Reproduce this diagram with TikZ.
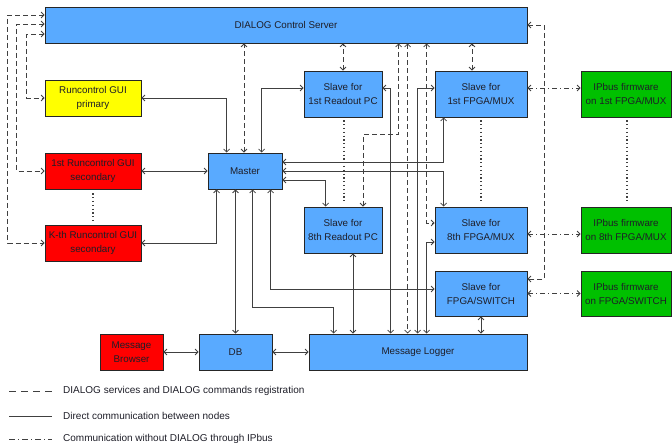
\documentclass[tikz,border=0pt]{standalone}
\usepackage{fontspec}
\setmainfont{Liberation Sans}
\usetikzlibrary{arrows.meta}
\definecolor{bfill}{RGB}{89,170,255}
\definecolor{gfill}{RGB}{0,192,0}
\definecolor{rfill}{RGB}{255,0,0}
\definecolor{yfill}{RGB}{255,255,0}
\definecolor{lc}{RGB}{64,64,64}
\definecolor{tc}{RGB}{30,30,40}
\begin{document}
\begin{tikzpicture}[x=1pt,y=-1pt,
  box/.style={draw=black!85, line width=0.8pt, inner sep=0pt, align=center,
    font=\fontsize{9.8}{14}\selectfont, text=tc},
  bluebox/.style={box, fill=bfill},
  conn/.style={draw=lc, line width=0.8pt, {Straight Barb[length=3pt,width=6pt]}-{Straight Barb[length=3pt,width=6pt]}},
  sol/.style={conn},
  dsh/.style={conn, dash pattern=on 5pt off 3pt},
  dshdot/.style={conn, dash pattern=on 5pt off 3pt on 1pt off 3pt},
  dotl/.style={draw=lc, line width=1.1pt, dash pattern=on 1.2pt off 2.6pt},
  legtext/.style={anchor=west, inner sep=0pt, font=\fontsize{10}{12}\selectfont, text=tc}
]
\useasboundingbox (0,0) rectangle (672,443);

% nodes
\node[bluebox, minimum width=482pt, minimum height=36pt] (srv) at (286,25) {DIALOG Control Server};
\node[box, fill=yfill, minimum width=96pt, minimum height=36pt] (gui1) at (93,98) {Runcontrol GUI\\primary};
\node[box, fill=rfill, minimum width=96pt, minimum height=36pt] (gui2) at (93,171) {1st Runcontrol GUI\\secondary};
\node[box, fill=rfill, minimum width=96pt, minimum height=36pt] (gui3) at (93,243) {K-th Runcontrol GUI\\secondary};
\node[bluebox, minimum width=74pt, minimum height=36pt] (master) at (245,171) {Master};
\node[bluebox, minimum width=78pt, minimum height=46pt] (ro1) at (343,94) {Slave for\\1st Readout PC};
\node[bluebox, minimum width=78pt, minimum height=46pt] (ro8) at (343,230) {Slave for\\8th Readout PC};
\node[bluebox, minimum width=92pt, minimum height=46pt] (fm1) at (481,94) {Slave for\\1st FPGA/MUX};
\node[bluebox, minimum width=92pt, minimum height=46pt] (fm8) at (481,230) {Slave for\\8th FPGA/MUX};
\node[bluebox, minimum width=92pt, minimum height=45pt] (fsw) at (481,293.5) {Slave for\\FPGA/SWITCH};
\node[box, fill=gfill, minimum width=90pt, minimum height=46pt] (ip1) at (626,94) {IPbus firmware\\on 1st FPGA/MUX};
\node[box, fill=gfill, minimum width=90pt, minimum height=46pt] (ip8) at (626,230) {IPbus firmware\\on 8th FPGA/MUX};
\node[box, fill=gfill, minimum width=90pt, minimum height=45pt] (ipsw) at (626,293.5) {IPbus firmware\\on FPGA/SWITCH};
\node[bluebox, minimum width=218pt, minimum height=36pt] (ml) at (418,352) {Message Logger};
\node[bluebox, minimum width=73pt, minimum height=36pt] (db) at (235.5,352) {DB};
\node[box, fill=rfill, minimum width=63pt, minimum height=36pt] (mb) at (131.5,352) {Message\\Browser};

% dashed: DIALOG
\draw[dsh] ([yshift=10pt]srv.west) -- ++(-37,0) |- (gui3.west);
\draw[dsh] ([yshift=1pt]srv.west) -- ++(-28,0) |- (gui2.west);
\draw[dsh] ([yshift=-9pt]srv.west) -- ++(-18,0) |- (gui1.west);
\draw[dsh] ([xshift=-1pt]master.north) -- ([xshift=-1pt]master.north |- srv.south);
\draw[dsh] (ro1.north) -- (ro1.north |- srv.south);
\draw[dsh] ([xshift=-9pt]fm1.north) -- ([xshift=-9pt]fm1.north |- srv.south);
\draw[dsh] ([xshift=354pt]srv.south west) -- ++(0,91) -| ([xshift=20pt]ro8.north);
\draw[dsh] ([xshift=363pt]srv.south west) -- ([xshift=99pt]ml.north west);
\draw[dsh] ([xshift=382pt]srv.south west) |- ([yshift=7pt]fm8.west);
\draw[dsh] (srv.east) -- ++(17,0) |- ([yshift=14.5pt]fsw.east);

% solid: direct communication
\draw[sol] (gui1.east) -| ([xshift=19pt]master.north west);
\draw[sol] (gui2.east) -- (master.west);
\draw[sol] (gui3.east) -| ([xshift=9pt]master.south west);
\draw[sol] (db.north) -- (db.north |- master.south);
\draw[sol] ([xshift=45pt]master.south west) -- ++(0,118) -| ([xshift=25pt]ml.north west);
\draw[sol] ([xshift=63pt]master.south west) |- ([yshift=4.5pt]fsw.west);
\draw[sol] ([xshift=54pt]master.north west) |- ([yshift=6pt]ro1.west);
\draw[sol] ([yshift=9pt]master.east) -| ([xshift=9pt]fm1.south west);
\draw[sol] (master.east) -| ([xshift=9pt]fm8.north west);
\draw[sol] ([yshift=-9pt]master.east) -| ([xshift=22pt]ro8.north west);
\draw[sol] ([yshift=6pt]ro1.east) -| ([xshift=82pt]ml.north west);
\draw[sol] ([xshift=10pt]ro8.south) -- ([xshift=10pt]ro8.south |- ml.north);
\draw[sol] ([yshift=6pt]fm1.west) -| ([xshift=109pt]ml.north west);
\draw[sol] ([yshift=-12pt]fm8.west) -| ([xshift=118pt]ml.north west);
\draw[sol] (fsw.south) -- (fsw.south |- ml.north);
\draw[sol] (mb.east) -- (db.west);
\draw[sol] (db.east) -- (ml.west);

% dash-dot: IPbus
\draw[dshdot] ([yshift=6pt]fm1.east) -- ([yshift=6pt]ip1.west);
\draw[dshdot] ([yshift=-4pt]fm8.east) -- ([yshift=-4pt]ip8.west);
\draw[dshdot] (fsw.east) -- (ipsw.west);

% dotted: repetition
\draw[dotl] ([yshift=-4pt]gui2.south) -- ([yshift=4pt]gui3.north);
\draw[dotl] ([xshift=1pt,yshift=-3pt]ro1.south) -- ([xshift=1pt,yshift=4pt]ro8.north);
\draw[dotl] ([yshift=-3pt]fm1.south) -- ([yshift=5pt]fm8.north);
\draw[dotl] ([xshift=1pt,yshift=-3pt]ip1.south) -- ([xshift=1pt,yshift=5pt]ip8.north);

% legend
\coordinate (l1a) at (9,391); \coordinate (l1b) at (52,391);
\coordinate (l2a) at (9,416); \coordinate (l2b) at (52,416);
\coordinate (l3a) at (9,439); \coordinate (l3b) at (52,439);
\draw[draw=lc, line width=0.8pt, dash pattern=on 7pt off 5pt] (l1a) -- (l1b);
\draw[draw=lc, line width=0.8pt] (l2a) -- (l2b);
\draw[draw=lc, line width=0.8pt, dash pattern=on 6pt off 3pt on 1pt off 3pt] (l3a) -- (l3b);
\node[legtext] (t1) at (63,391) {DIALOG services and DIALOG commands registration};
\node[legtext] (t2) at (63,416) {Direct communication between nodes};
\node[legtext] (t3) at (63,439) {Communication without DIALOG through IPbus};
\end{tikzpicture}
\end{document}
